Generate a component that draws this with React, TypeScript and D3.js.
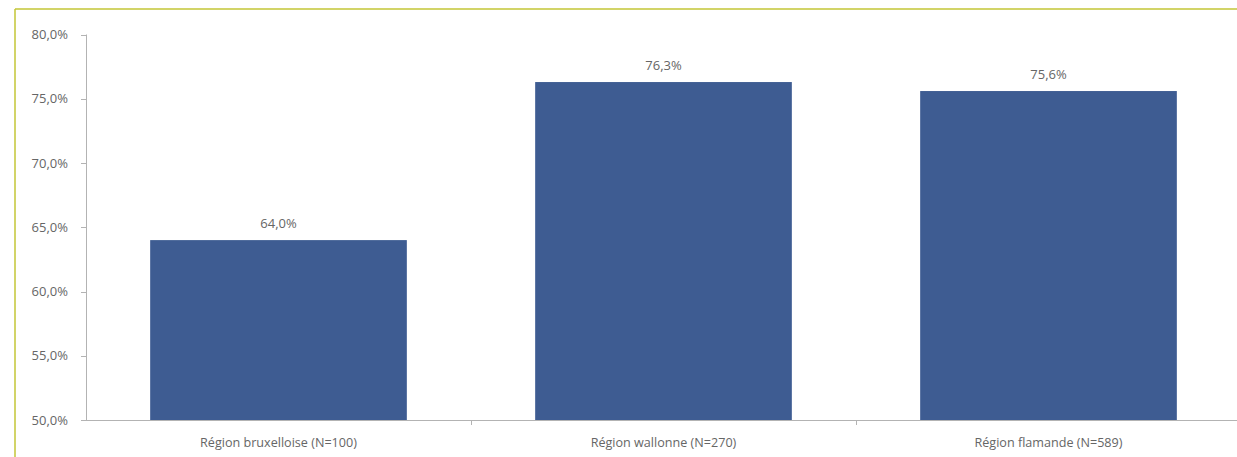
import React from "react";
import * as d3 from "d3";

const categories = ["Région bruxelloise (N=100)", "Région wallonne (N=270)", "Région flamande (N=589)"];
const values = [64.0, 76.3, 75.6];
const yTicks = [50, 55, 60, 65, 70, 75, 80];

const W = 1237;
const H = 457;
const FONT = "'Open Sans', sans-serif";
const TEXT = "#666666";
const AXIS = "#b3b3b3";
const BAR = "#3e5c92";

export default function App() {
  const x = d3.scaleBand<string>().domain(categories).range([86, 1241]).paddingInner(1 / 3).paddingOuter(1 / 6);
  const band = d3.scaleBand<string>().domain(categories).range([86, 1241]).padding(0);
  const y = d3.scaleLinear().domain([50, 80]).range([420, 34.5]);
  const fmt = (v: number) => v.toFixed(1).replace(".", ",") + "%";

  return (
    <svg width={W} height={H} style={{ position: "absolute", left: 0, top: 0, display: "block" }}>
      <rect x={0} y={0} width={W} height={H} fill="#ffffff" />
      <line x1={15} y1={9} x2={W} y2={9} stroke="#c3c636" strokeWidth={1.5} />
      <line x1={15} y1={9} x2={15} y2={H} stroke="#c3c636" strokeWidth={1.5} />
      {/* y axis */}
      <line x1={86.5} y1={y(80)} x2={86.5} y2={y(50)} stroke={AXIS} strokeWidth={1} />
      {yTicks.map((t) => (
        <g key={t}>
          <line x1={81} x2={86.5} y1={Math.round(y(t)) + 0.5} y2={Math.round(y(t)) + 0.5} stroke={AXIS} />
          <text x={68} y={y(t)} dy="0.35em" textAnchor="end" fontFamily={FONT} fontSize={13} fill={TEXT}>
            {fmt(t)}
          </text>
        </g>
      ))}
      {/* bars */}
      {categories.map((c, i) => (
        <g key={c}>
          <rect x={x(c)} y={y(values[i])} width={x.bandwidth()} height={y(50) - y(values[i])} fill={BAR} />
          <text
            x={(x(c) as number) + x.bandwidth() / 2}
            y={y(values[i]) - 12}
            textAnchor="middle"
            fontFamily={FONT}
            fontSize={13}
            fill={TEXT}
          >
            {fmt(values[i])}
          </text>
          <text
            x={(band(c) as number) + band.bandwidth() / 2}
            y={447}
            textAnchor="middle"
            fontFamily={FONT}
            fontSize={12.6}
            fill={TEXT}
          >
            {c}
          </text>
        </g>
      ))}
      {/* x axis */}
      <line x1={86} x2={1241} y1={420.5} y2={420.5} stroke={AXIS} />
      {categories.map((c, i) =>
        i === 0 ? null : (
          <line key={c} x1={Math.round(band(c) as number) + 0.5} x2={Math.round(band(c) as number) + 0.5} y1={420.5} y2={425} stroke={AXIS} />
        )
      )}
    </svg>
  );
}
